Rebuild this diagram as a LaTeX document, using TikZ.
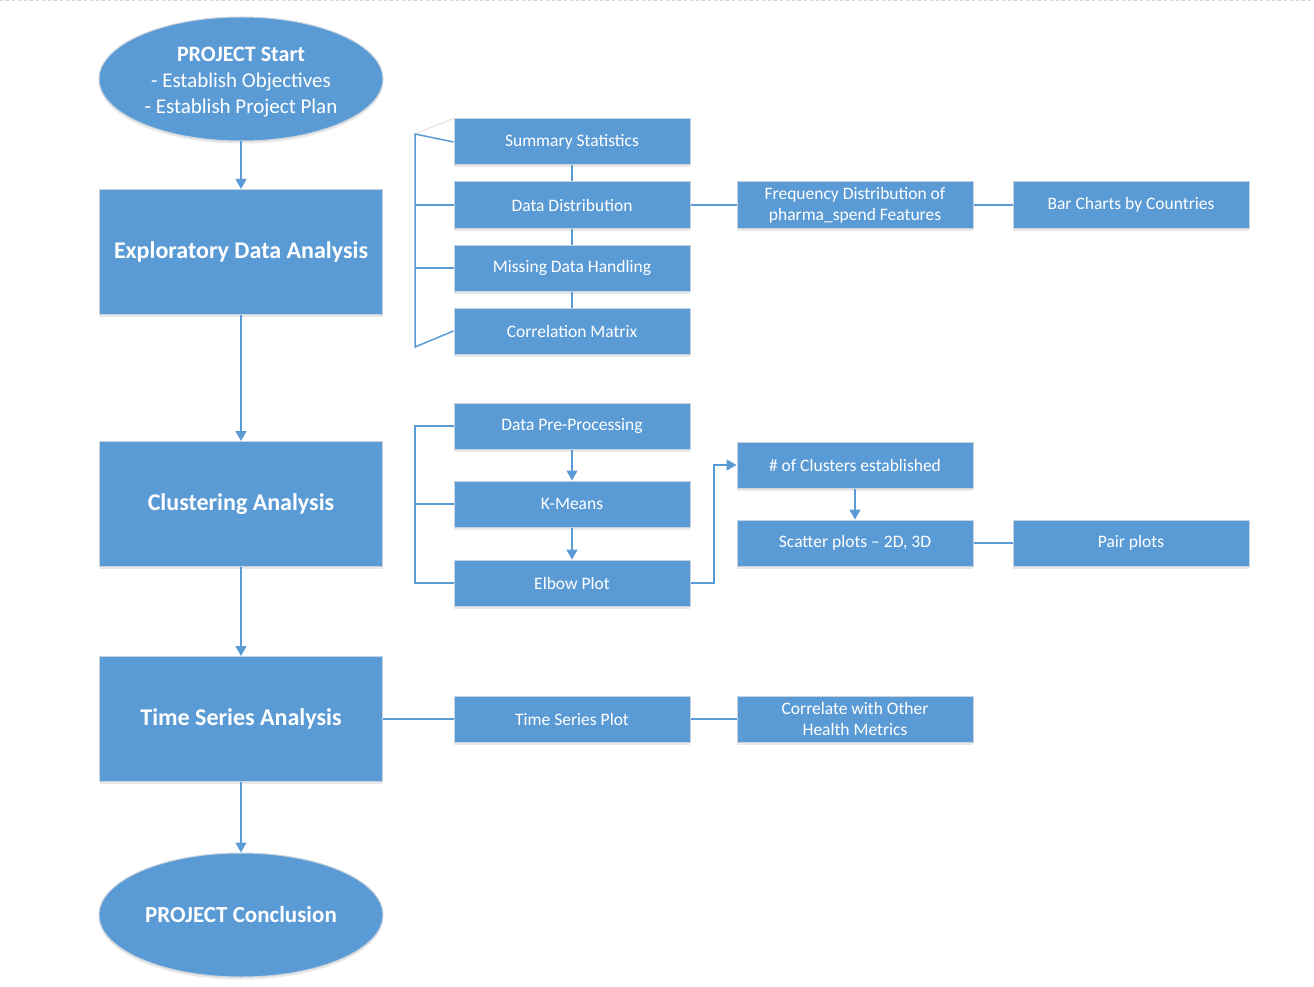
\documentclass[tikz,border=0pt]{standalone}
\usepackage{fontspec}
\setmainfont{Carlito}
\usetikzlibrary{shapes.geometric,arrows.meta,shadows}
\definecolor{blu}{HTML}{5B9BD5}
\definecolor{edgec}{HTML}{C9D3DD}
\begin{document}
\begin{tikzpicture}[x=1pt,y=-1pt,
  shad/.style={drop shadow={opacity=0.18,shadow xshift=0pt,shadow yshift=-2.5pt,fill=gray}},
  big/.style={rectangle,fill=blu,draw=edgec,line width=1pt,minimum width=283pt,minimum height=125pt,inner sep=0pt,text=white,font=\fontsize{24}{28}\selectfont\bfseries,shad},
  oval/.style={ellipse,fill=blu,draw=edgec,line width=1pt,minimum width=284pt,minimum height=124pt,inner sep=0pt,text=white,align=center,font=\fontsize{21}{26}\selectfont,shad},
  small/.style={rectangle,fill=blu,draw=edgec,line width=1pt,minimum width=236pt,minimum height=46pt,inner sep=0pt,text=white,align=center,font=\fontsize{17.5}{21}\selectfont,shad},
  ln/.style={draw=blu,line width=1.5pt},
  arr/.style={ln,-{Triangle[length=10pt,width=11pt]}}
]
\useasboundingbox (0,0) rectangle (1314,987);
\fill[white] (0,0) rectangle (1314,987);
\draw[gray!35,dashed,line width=1pt] (0,1) -- (1314,1);

% main column
\node[oval] (start) at (241,79) {\begin{tabular}{@{}c@{}}\rule{0pt}{24.5pt}\textbf{\fontsize{22}{26}\selectfont PROJECT Start}\\- Establish Objectives\\- Establish Project Plan\end{tabular}};
\node[big] (eda) at (241,252) {Exploratory Data Analysis};
\node[big] (clu) at (241,504) {Clustering Analysis};
\node[big] (ts) at (241,719) {Time Series Analysis};
\node[oval,font=\fontsize{23}{28}\selectfont\bfseries] (concl) at (241,915) {PROJECT Conclusion};

% column 1
\node[small] (ss) at (572,142) {Summary Statistics};
\node[small] (dd) at (572,205) {Data Distribution};
\node[small] (mdh) at (572,268) {Missing Data Handling};
\node[small] (cm) at (572,331) {Correlation Matrix};
\node[small] (dpp) at (572,426) {Data Pre-Processing};
\node[small] (km) at (572,504) {K-Means};
\node[small] (elb) at (572,583) {Elbow Plot};
\node[small] (tsp) at (572,719) {Time Series Plot};

% column 2
\node[small] (freq) at (855,205) {Frequency Distribution of\\pharma\_spend Features};
\node[small] (ncl) at (855,465) {\# of Clusters established};
\node[small] (sc) at (855,543) {Scatter plots -- 2D, 3D};
\node[small] (corr) at (855,719) {Correlate with Other\\Health Metrics};

% column 3
\node[small] (bar) at (1131,205) {Bar Charts by Countries};
\node[small] (pair) at (1131,543) {Pair plots};

% helper coordinates
\coordinate (b1a) at (415,134);
\coordinate (b1b) at (415,347);
\coordinate (b2) at (415,0);
\coordinate (j) at (714,0);

% main arrows
\draw[arr] (start) -- (eda);
\draw[arr] (eda) -- (clu);
\draw[arr] (clu) -- (ts);
\draw[arr] (ts) -- (concl);

% bracket 1
\draw[gray!25,line width=0.8pt] (b1a) -- (ss.north west);
\draw[ln] (ss.west) -- (b1a) -- (b1b) -- (cm.west);
\draw[ln] (dd.west) -- (dd.west -| b1a);
\draw[ln] (mdh.west) -- (mdh.west -| b1a);
\draw[ln] (ss) -- (dd);
\draw[ln] (dd) -- (mdh);
\draw[ln] (mdh) -- (cm);
\draw[ln] (dd) -- (freq);
\draw[ln] (freq) -- (bar);

% bracket 2
\draw[ln] (dpp.west) -- (dpp.west -| b2) -- (elb.west -| b2) -- (elb.west);
\draw[ln] (km.west) -- (km.west -| b2);
\draw[arr] (dpp) -- (km);
\draw[arr] (km) -- (elb);
\draw[arr] (elb.east) -- (elb.east -| j) -- (ncl.west -| j) -- (ncl.west);
\draw[arr] (ncl) -- (sc);
\draw[ln] (sc) -- (pair);

% time series row
\draw[ln] (ts) -- (tsp);
\draw[ln] (tsp) -- (corr);
\end{tikzpicture}
\end{document}
